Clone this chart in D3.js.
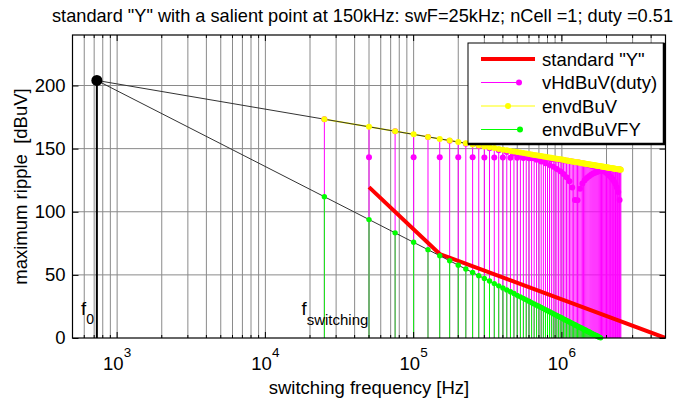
<!DOCTYPE html>
<html><head><meta charset="utf-8">
<script src="https://cdn.jsdelivr.net/npm/d3@7"></script>
<style>
html,body{margin:0;padding:0;background:#fff;overflow:hidden}
svg{display:block}
text{font-family:"Liberation Sans",Arial,Helvetica,sans-serif;fill:#000}
</style></head><body>
<svg id="chart" width="684" height="400"></svg>
<script>
// ---------- texts ----------
const titleText = 'standard "Y" with a salient point at 150kHz: swF=25kHz; nCell =1; duty =0.51';
const xLabel = "switching frequency [Hz]";
const yLabel = "maximum ripple  [dBuV]";
const xTickExponents = [3, 4, 5, 6];
const yTickValues = [0, 50, 100, 150, 200];
const legendLabels = ['standard "Y"', 'vHdBuV(duty)', 'envdBuV', 'envdBuVFY'];

// ---------- data ----------
const f0Hz = 730;
const f0dBuV = 204;

const harmonicKHz = [25,50,75,100,125,150,175,200,225,250,275,300,325,350,375,400,425,450,475,500,
525,550,575,600,625,650,675,700,725,750,775,800,825,850,875,900,925,950,975,1000,
1025,1050,1075,1100,1125,1150,1175,1200,1225,1250,1275,1300,1325,1350,1375,1400,1425,1450,1475,1500,
1525,1550,1575,1600,1625,1650,1675,1700,1725,1750,1775,1800,1825,1850,1875,1900,1925,1950,1975,2000,
2025,2050,2075,2100,2125,2150,2175,2200,2225,2250,2275,2300,2325,2350,2375,2400,2425,2450,2475,2500];

const envdBuV = [173.3,167.3,163.8,161.3,159.3,157.7,156.4,155.2,154.2,153.3,
152.5,151.7,151.0,150.4,149.8,149.2,148.7,148.2,147.7,147.3,
146.9,146.5,146.1,145.7,145.3,145.0,144.7,144.4,144.1,143.8,
143.5,143.2,142.9,142.7,142.4,142.2,141.9,141.7,141.5,141.3,
141.1,140.8,140.6,140.4,140.2,140.0,139.9,139.7,139.5,139.3,
139.2,139.0,138.8,138.7,138.5,138.3,138.2,138.0,137.9,137.7,
137.6,137.5,137.3,137.2,137.0,136.9,136.8,136.7,136.5,136.4,
136.3,136.2,136.0,135.9,135.8,135.7,135.6,135.5,135.3,135.2,
135.1,135.0,134.9,134.8,134.7,134.6,134.5,134.4,134.3,134.2,
134.1,134.0,133.9,133.8,133.7,133.7,133.6,133.5,133.4,133.3];

const vHdBuV = [173.3,143.2,163.7,143.2,159.2,143.2,156.2,143.2,153.9,143.1,
151.9,143.0,150.3,143.0,148.8,142.9,147.4,142.8,146.1,142.7,
144.8,142.5,143.6,142.4,142.3,142.3,141.1,142.1,139.8,141.9,
138.5,141.7,137.1,141.5,135.6,141.3,133.9,141.1,132.1,140.8,
130.0,140.6,127.4,140.3,124.1,140.0,119.3,139.7,109.4,139.3,
109.1,139.0,118.3,138.6,122.4,138.2,125.0,137.8,126.8,137.3,
128.2,136.8,129.3,136.3,130.2,135.8,130.9,135.2,131.5,134.6,
132.0,133.9,132.4,133.2,132.8,132.4,133.1,131.6,133.3,130.6,
133.5,129.6,133.6,128.5,133.7,127.2,133.8,125.7,133.8,124.0,
133.8,121.9,133.7,119.3,133.6,115.6,133.5,109.4,133.4,null];

const envdBuVFY = [111.9,93.8,83.3,75.8,70.0,65.2,61.2,57.7,54.6,51.9,
49.4,47.2,45.1,43.1,41.3,39.7,38.1,36.6,35.2,33.8,
32.6,31.4,30.2,29.1,28.0,27.0,26.0,25.1,24.2,23.3,
22.4,21.6,20.8,20.0,19.3,18.5,17.8,17.1,16.4,15.8,
15.1,14.5,13.9,13.3,12.7,12.1,11.6,11.0,10.5,10.0,
9.4,8.9,8.4,8.0,7.5,7.0,6.5,6.1,5.6,5.2,
4.8,4.4,3.9,3.5,3.1,2.7,2.3,2.0,1.6,1.2,
0.8,0.5,0.1];

const standardYkHz = [50, 150, 5000];
const standardYdBuV = [119.5, 66.5, 0];

const envGuideHz = [730, 2500000];
const envGuideDBuV = [204, 133.3];
const fyGuideHz = [730, 1830000];
const fyGuideDBuV = [204, 0];

// ---------- setup ----------
const svg = d3.select("#chart");
const L = 72.5, R = 665.5, T = 35, B = 338;
const x = d3.scaleLog().domain([500, 5e6]).range([L, R]);
const y = d3.scaleLinear().domain([0, 240]).range([B, T]);

const C = { red: "#ff0000", mag: "#ff00ff", yel: "#ffff00", grn: "#00ff00", grid: "#8a8a8a", guide: "#333" };

svg.append("defs").append("clipPath").attr("id", "clip")
  .append("rect").attr("x", L).attr("y", T).attr("width", R - L).attr("height", B - T);

// grid
const minorTicks = x.ticks();
const majorTicks = xTickExponents.map(e => Math.pow(10, e));
const grid = svg.append("g");
grid.selectAll("line.vx").data(minorTicks.filter(v => v > 500 && v < 5e6)).join("line")
  .attr("x1", d => x(d)).attr("x2", d => x(d)).attr("y1", T).attr("y2", B)
  .attr("stroke", C.grid).attr("stroke-width", 1);
grid.selectAll("line.hy").data(yTickValues.filter(v => v > 0)).join("line")
  .attr("x1", L).attr("x2", R).attr("y1", d => y(d)).attr("y2", d => y(d))
  .attr("stroke", C.grid).attr("stroke-width", 1);

const plot = svg.append("g").attr("clip-path", "url(#clip)");

// f0 stem
plot.append("line").attr("x1", x(f0Hz)).attr("x2", x(f0Hz)).attr("y1", y(0)).attr("y2", y(f0dBuV))
  .attr("stroke", "#000").attr("stroke-width", 2);

// magenta stems (reaching the envelope) and vH markers
const H = harmonicKHz.map((k, i) => ({ f: k * 1000, env: envdBuV[i], vh: vHdBuV[i], fy: envdBuVFY[i] }));
plot.append("g").selectAll("line").data(H).join("line")
  .attr("x1", d => x(d.f)).attr("x2", d => x(d.f)).attr("y1", y(0)).attr("y2", d => y(d.env))
  .attr("stroke", C.mag).attr("stroke-width", 1);
svg.append("g").selectAll("circle").data(H.filter(d => d.vh != null && d.vh >= 0)).join("circle")
  .attr("cx", d => x(d.f)).attr("cy", d => y(d.vh)).attr("r", 3).attr("fill", C.mag);

// standard Y
const line = d3.line().x(d => x(d[0])).y(d => y(d[1]));
plot.append("path").datum(standardYkHz.map((k, i) => [k * 1000, standardYdBuV[i]]))
  .attr("d", line).attr("fill", "none").attr("stroke", C.red).attr("stroke-width", 4);

// green stems
const G = H.filter(d => d.fy != null);
plot.append("g").selectAll("line").data(G).join("line")
  .attr("x1", d => x(d.f)).attr("x2", d => x(d.f)).attr("y1", y(0)).attr("y2", d => y(d.fy))
  .attr("stroke", C.grn).attr("stroke-width", 1);
svg.append("g").selectAll("circle").data(G.filter(d => d.fy >= 0)).join("circle")
  .attr("cx", d => x(d.f)).attr("cy", d => y(d.fy)).attr("r", 2.7).attr("fill", C.grn);

// yellow envelope
plot.append("path").datum(H.map(d => [d.f, d.env])).attr("d", line)
  .attr("fill", "none").attr("stroke", C.yel).attr("stroke-width", 1.5);
svg.append("g").selectAll("circle").data(H).join("circle")
  .attr("cx", d => x(d.f)).attr("cy", d => y(d.env)).attr("r", 3).attr("fill", C.yel);

// black guides
plot.append("path").datum(envGuideHz.map((f, i) => [f, envGuideDBuV[i]])).attr("d", line)
  .attr("fill", "none").attr("stroke", C.guide).attr("stroke-width", 1);
plot.append("path").datum(fyGuideHz.map((f, i) => [f, fyGuideDBuV[i]])).attr("d", line)
  .attr("fill", "none").attr("stroke", C.guide).attr("stroke-width", 1);

// f0 dot
svg.append("circle").attr("cx", x(f0Hz)).attr("cy", y(f0dBuV)).attr("r", 5.5).attr("fill", "#000");

// box
svg.append("rect").attr("x", L).attr("y", T).attr("width", R - L).attr("height", B - T)
  .attr("fill", "none").attr("stroke", "#000").attr("stroke-width", 1.2);

// x ticks (top & bottom, inward)
const tk = svg.append("g").attr("stroke", "#000").attr("stroke-width", 1);
minorTicks.forEach(v => {
  const len = majorTicks.includes(v) ? 6 : 3;
  const px = x(v);
  tk.append("line").attr("x1", px).attr("x2", px).attr("y1", B).attr("y2", B - len);
  tk.append("line").attr("x1", px).attr("x2", px).attr("y1", T).attr("y2", T + len);
});
// y axis via d3 axis (left, inward ticks)
const yAxis = svg.append("g").attr("transform", `translate(${L},0)`)
  .call(d3.axisLeft(y).tickValues(yTickValues).tickSize(-6).tickSizeOuter(0).tickPadding(7));
yAxis.select(".domain").remove();
yAxis.selectAll("line").attr("stroke", "#000");
yAxis.selectAll("text").attr("font-size", 18.5).attr("font-family", '"Liberation Sans",Arial,sans-serif').attr("fill", "#000");
const yAxisR = svg.append("g").attr("transform", `translate(${R},0)`)
  .call(d3.axisRight(y).tickValues(yTickValues).tickSize(-6).tickSizeOuter(0).tickFormat(""));
yAxisR.select(".domain").remove();
yAxisR.selectAll("line").attr("stroke", "#000");

// x tick labels 10^n
xTickExponents.forEach(e => {
  const t = svg.append("text").attr("x", x(Math.pow(10, e))).attr("y", 370)
    .attr("text-anchor", "middle").attr("font-size", 18.5);
  t.append("tspan").text("10");
  t.append("tspan").attr("dy", -13).attr("font-size", 13.5).text(e);
});

// labels
svg.append("text").attr("x", 52).attr("y", 22).attr("font-size", 18.2).text(titleText);
svg.append("text").attr("x", (L + R) / 2).attr("y", 394).attr("text-anchor", "middle").attr("font-size", 18.5).text(xLabel);
svg.append("text").attr("transform", `translate(27,${(T + B) / 2}) rotate(-90)`).attr("text-anchor", "middle")
  .attr("font-size", 18.5).style("white-space", "pre").text(yLabel);

// f annotations
const f0t = svg.append("text").attr("x", 81).attr("y", 315).attr("font-size", 18.5);
f0t.append("tspan").text("f");
f0t.append("tspan").attr("dy", 9).attr("font-size", 14).text("0");
const fst = svg.append("text").attr("x", 301.5).attr("y", 315).attr("font-size", 18.5);
fst.append("tspan").text("f");
fst.append("tspan").attr("dy", 10).attr("font-size", 15).text("switching");

// legend
const lg = svg.append("g");
const lx = 468, ly = 43, lw = 196, lh = 101;
lg.append("rect").attr("x", lx).attr("y", ly).attr("width", lw).attr("height", lh)
  .attr("fill", "#fff").attr("stroke", "#000").attr("stroke-width", 1);
lg.append("line").attr("x1", lx + lw).attr("x2", lx + lw).attr("y1", ly).attr("y2", ly + lh + 1).attr("stroke", "#000").attr("stroke-width", 2.5);
lg.append("line").attr("x1", lx).attr("x2", lx + lw + 1).attr("y1", ly + lh).attr("y2", ly + lh).attr("stroke", "#000").attr("stroke-width", 2.5);
const rowY = [59, 82.5, 106, 129.5];
const legendStyles = [
  { c: C.red, w: 4, x2: 535, dot: null },
  { c: C.mag, w: 1, x2: 519, dot: 519 },
  { c: C.yel, w: 1, x2: 535, dot: 508 },
  { c: C.grn, w: 1, x2: 520, dot: 520 }
];
legendLabels.forEach((lab, i) => {
  const s = legendStyles[i];
  lg.append("line").attr("x1", 481).attr("x2", s.x2).attr("y1", rowY[i]).attr("y2", rowY[i])
    .attr("stroke", s.c).attr("stroke-width", s.w);
  if (s.dot) lg.append("circle").attr("cx", s.dot).attr("cy", rowY[i]).attr("r", 3).attr("fill", s.c);
  lg.append("text").attr("x", 542).attr("y", rowY[i] + 6.5).attr("font-size", 18.5).text(lab);
});
</script>
</body></html>
